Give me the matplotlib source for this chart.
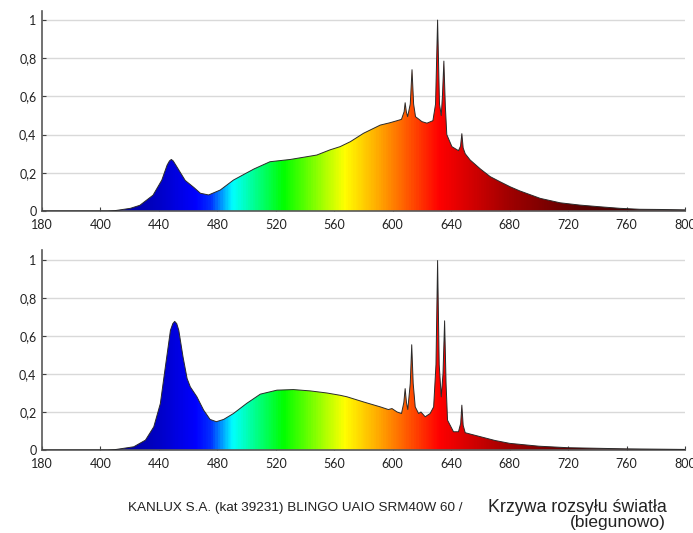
import numpy as np
import matplotlib
matplotlib.use('Agg')
import matplotlib.pyplot as plt
from matplotlib.colors import LinearSegmentedColormap

# spectrum values (wavelength nm, relative intensity)
wl_top = [360, 405, 410, 420.5, 427, 436, 442, 445.6, 447.2, 448.5, 449.8, 452, 458, 463.8, 468.4, 474, 482,
          491, 505, 516, 530, 548, 557, 564, 571, 580, 591.5, 598, 603, 606, 607.8, 608.5, 609.3,
          610.2, 612, 613.2, 614.3, 615.6, 620, 623.4, 627.5, 629.3, 630.7, 632, 633.2, 634, 635,
          636, 637, 640.5, 645, 646.4, 647.3, 648.2, 649.6, 653, 660, 666.7, 673.5, 680.3, 687,
          701, 714.5, 728, 742, 755.5, 769, 783, 800]
val_top = [0, 0, 0.002, 0.014, 0.03, 0.083, 0.162, 0.24, 0.262, 0.27, 0.262, 0.235, 0.16, 0.124, 0.093, 0.084, 0.11,
           0.162, 0.22, 0.258, 0.27, 0.293, 0.32, 0.337, 0.363, 0.407, 0.45, 0.462, 0.473, 0.48, 0.52, 0.567, 0.52,
           0.494, 0.56, 0.74, 0.56, 0.494, 0.468, 0.46, 0.473, 0.56, 1.0, 0.56, 0.50, 0.6, 0.785,
           0.55, 0.40, 0.337, 0.316, 0.34, 0.405, 0.33, 0.30, 0.267, 0.22, 0.18, 0.153, 0.127, 0.105,
           0.066, 0.043, 0.031, 0.022, 0.014, 0.009, 0.008, 0.006]

wl_bot = [360, 405, 410, 422.8, 430.8, 436.5, 441, 444.4, 447.9, 449.5, 450.8, 452.2, 453.6, 456.5, 459.3, 461.5,
          466, 470.6, 475, 479.3, 484.3, 491, 500, 509.4, 520.8, 532, 543.6, 555, 564, 568.7, 580,
          591.5, 597, 599.5, 603, 606, 607.6, 608.5, 609.4, 610.3, 612, 613, 614, 615.4, 617.7,
          619.3, 622.2, 625.6, 628, 629.6, 630.7, 631.8, 633.2, 634.4, 635.5, 636.5, 637.5, 641.6,
          645, 646.5, 647.3, 648.2, 649.6, 653, 660, 670, 680, 700, 720, 760, 800]
val_bot = [0, 0, 0.002, 0.017, 0.052, 0.122, 0.245, 0.437, 0.63, 0.665, 0.677, 0.665, 0.63, 0.49, 0.376, 0.332,
           0.28, 0.21, 0.161, 0.149, 0.161, 0.192, 0.245, 0.294, 0.315, 0.318, 0.311, 0.30, 0.288, 0.28, 0.253,
           0.227, 0.213, 0.218, 0.2, 0.192, 0.25, 0.323, 0.25, 0.213, 0.35, 0.554, 0.35, 0.227, 0.192,
           0.2, 0.175, 0.192, 0.227, 0.45, 0.997, 0.45, 0.28, 0.4, 0.68, 0.35, 0.157, 0.096,
           0.096, 0.14, 0.236, 0.13, 0.091, 0.084, 0.07, 0.05, 0.035, 0.02, 0.012, 0.006, 0.003]

x_ticks = [360, 400, 440, 480, 520, 560, 600, 640, 680, 720, 760, 800]
x_labels = ['180', '400', '440', '480', '520', '560', '600', '640', '680', '720', '760', '800']
y_ticks = [0, 0.2, 0.4, 0.6, 0.8, 1]
y_labels = ['0', '0,2', '0,4', '0,6', '0,8', '1']

# colour of the light along the spectrum
nodes = [(360, '#000078'), (410, '#000096'), (440, '#0000c8'), (465, '#0000ff'), (475, '#0030ff'),
         (490, '#00ffff'), (525, '#00ff00'), (567, '#ffff00'), (590, '#ffaa00'), (632, '#ff0000'),
         (680, '#a00000'), (730, '#5a0000'), (800, '#320000')]
spec_cmap = LinearSegmentedColormap.from_list(
    'spec', [((w - 360) / 440, c) for w, c in nodes])

plt.rcParams['font.family'] = ['Lato', 'DejaVu Sans']

fig = plt.figure(figsize=(6.93, 5.33), dpi=100)
ax_top = fig.add_axes([42 / 693, 1 - 211 / 533, 643 / 693, 200.5 / 533])
ax_bot = fig.add_axes([42 / 693, 1 - 450 / 533, 643 / 693, 199.5 / 533])


def draw_spectrum(ax, wl, val):
    ymax = 1.05
    grad = np.linspace(360, 800, 880).reshape(1, -1)
    img = ax.imshow(grad, cmap=spec_cmap, extent=[360, 800, 0, ymax], aspect='auto',
                    origin='lower', zorder=2, vmin=360, vmax=800)
    poly = ax.fill_between(wl, 0, val, facecolor='none', edgecolor='none', zorder=2)
    path = poly.get_paths()[0]
    img.set_clip_path(path, transform=ax.transData)
    ax.plot(wl, val, color='#2a2a2a', lw=0.7, zorder=3)

    ax.set_xlim(360, 800)
    ax.set_ylim(0, ymax)
    ax.set_xticks(x_ticks)
    ax.set_xticklabels(x_labels)
    ax.set_yticks(y_ticks)
    ax.set_yticklabels(y_labels)
    ax.tick_params(direction='in', length=3, width=0.8, color='#404040',
                   labelsize=9, labelcolor='#222222')
    ax.tick_params(axis='x', pad=6)
    ax.tick_params(axis='y', pad=4)
    ax.grid(axis='y', color='#d9d9d9', lw=1, zorder=0)
    ax.set_axisbelow(True)
    for s in ['top', 'right']:
        ax.spines[s].set_visible(False)
    for s in ['left', 'bottom']:
        ax.spines[s].set_color('#595959')
        ax.spines[s].set_linewidth(1.2)


draw_spectrum(ax_top, wl_top, val_top)
draw_spectrum(ax_bot, wl_bot, val_bot)

# footer caption
fig.text(466 / 693, 1 - 508 / 533, 'KANLUX S.A. (kat 39231) BLINGO UAIO SRM40W 60 / ',
         ha='right', va='center', fontsize=9.7, family='Liberation Sans', color='#222222')
fig.text(667 / 693, 1 - 507 / 533, 'Krzywa rozsyłu światła',
         ha='right', va='center', fontsize=12.8, family='Liberation Sans', color='#222222')
fig.text(666 / 693, 1 - 523 / 533, '(biegunowo)',
         ha='right', va='center', fontsize=12.5, family='Liberation Sans', color='#222222')

plt.savefig('out.png', dpi=100)
plt.close()
